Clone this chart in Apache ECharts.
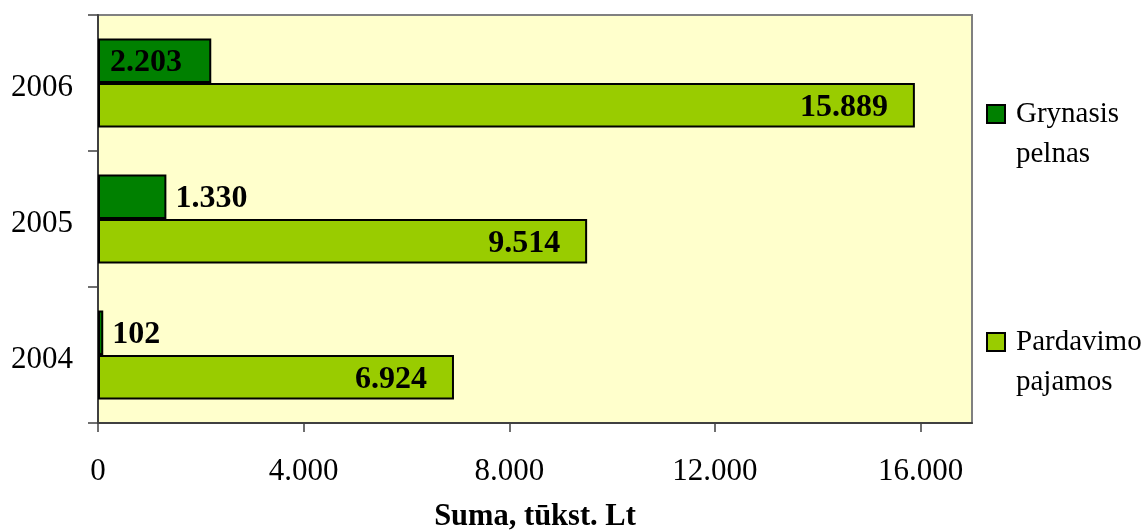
<!DOCTYPE html>
<html>
<head>
<meta charset="utf-8">
<script src="https://cdn.jsdelivr.net/npm/echarts@6/dist/echarts.min.js"></script>
<style>
  html, body { margin: 0; padding: 0; background: #ffffff; }
  #chart { width: 1146px; height: 531px; }
</style>
</head>
<body>
<div id="chart"></div>
<script>
// Years on the category axis (bottom to top)
const years = ['2004', '2005', '2006'];
// Net profit, thousand Lt
const grynasisPelnas = [102, 1330, 2203];
// Sales revenue, thousand Lt
const pardavimoPajamos = [6924, 9514, 15889];
// Value axis ticks
const xTicks = [0, 4000, 8000, 12000, 16000];

const serif = '"Liberation Serif", "Times New Roman", serif';

// 15889 -> "15.889"
function fmt(v) {
  return String(v).replace(/\B(?=(\d{3})+(?!\d))/g, '.');
}

const labelBase = {
  show: true,
  fontFamily: serif,
  fontSize: 32,
  fontWeight: 'bold',
  color: '#000000',
  verticalAlign: 'top',
  lineHeight: 4,
  formatter: p => fmt(p.value)
};

// Short profit bars carry their label outside; the widest one fits it inside
const profitData = grynasisPelnas.map(v =>
  v > 2000 ? { value: v, label: { position: 'insideLeft', distance: 12 } } : v
);

const chart = echarts.init(document.getElementById('chart'), null, { renderer: 'canvas' });

const legendText = {
  fontFamily: serif,
  fontSize: 29,
  color: '#000000',
  lineHeight: 40,
  padding: [0, 0, 0, 6]
};

// Two-word names wrap onto two lines; the leading empty line keeps the
// swatch level with the first word
const legendFormatter = n => '\n' + n.replace(' ', '\n');

chart.setOption({
  animation: false,
  backgroundColor: '#ffffff',
  grid: {
    left: 98,
    top: 15,
    right: 174,
    bottom: 108,
    outerBoundsMode: 'none',
    show: true,
    backgroundColor: '#FFFFCC',
    borderColor: '#808080',
    borderWidth: 2
  },
  legend: [
    {
      data: ['Grynasis pelnas'],
      left: 986,
      top: 54,
      padding: 0,
      orient: 'vertical',
      icon: 'rect',
      itemWidth: 18,
      itemHeight: 18,
      formatter: legendFormatter,
      textStyle: legendText
    },
    {
      data: ['Pardavimo pajamos'],
      left: 986,
      top: 282,
      padding: 0,
      orient: 'vertical',
      icon: 'rect',
      itemWidth: 18,
      itemHeight: 18,
      formatter: legendFormatter,
      textStyle: legendText
    }
  ],
  xAxis: {
    type: 'value',
    min: 0,
    max: 17000,
    name: 'Suma, tūkst. Lt',
    nameLocation: 'middle',
    nameGap: 79,
    nameTextStyle: {
      fontFamily: serif,
      fontSize: 30.5,
      fontWeight: 'bold',
      color: '#000000'
    },
    axisLine: { show: true, lineStyle: { color: '#404040', width: 2 } },
    axisTick: {
      show: true,
      length: 9,
      customValues: xTicks,
      lineStyle: { color: '#404040', width: 1.5 }
    },
    axisLabel: {
      customValues: xTicks,
      margin: 33,
      fontFamily: serif,
      fontSize: 31,
      color: '#000000',
      formatter: v => fmt(v)
    },
    splitLine: { show: false }
  },
  yAxis: {
    type: 'category',
    data: years,
    axisLine: { show: true, lineStyle: { color: '#404040', width: 2 } },
    axisTick: { show: true, length: 10, lineStyle: { color: '#404040', width: 1.5 } },
    axisLabel: {
      margin: 25,
      verticalAlign: 'top',
      lineHeight: 9,
      fontFamily: serif,
      fontSize: 31,
      color: '#000000'
    },
    splitLine: { show: false }
  },
  series: [
    {
      name: 'Grynasis pelnas',
      type: 'bar',
      data: profitData,
      barGap: '0%',
      barCategoryGap: '34.5%',
      itemStyle: { color: '#008000', borderColor: '#000000', borderWidth: 2 },
      label: Object.assign({}, labelBase, { position: 'right', distance: 9 })
    },
    {
      name: 'Pardavimo pajamos',
      type: 'bar',
      data: pardavimoPajamos,
      barGap: '0%',
      barCategoryGap: '34.5%',
      itemStyle: { color: '#99CC00', borderColor: '#000000', borderWidth: 2 },
      label: Object.assign({}, labelBase, { position: 'insideRight', distance: 27 })
    }
  ]
});
</script>
</body>
</html>
